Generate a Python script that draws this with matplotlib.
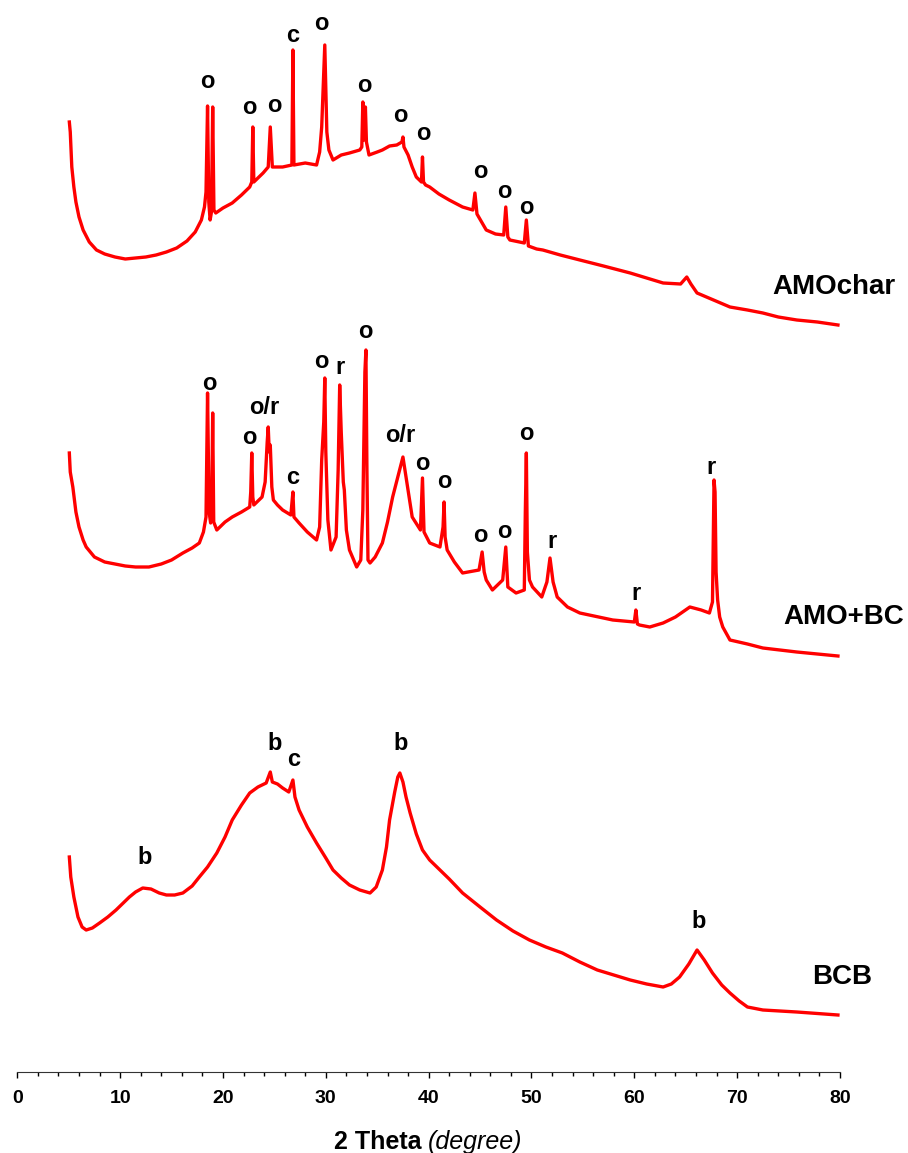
import matplotlib
matplotlib.use("Agg")
import matplotlib.pyplot as plt

plt.rcParams['font.family'] = ['Liberation Sans', 'DejaVu Sans']

# 2 theta / intensity (a.u.)
amochar_x = [5.06, 5.15, 5.3, 5.5, 5.7, 6.0, 6.4, 7.0, 7.7, 8.5, 9.5, 10.5, 11.5, 12.5, 13.5, 14.5,
             15.5, 16.5, 17.3, 17.9, 18.2, 18.35, 18.5, 18.62, 18.75, 18.88, 19.0, 19.12, 19.3, 20.0,
             20.9, 21.8, 22.6, 22.8, 22.9, 23.0, 23.5, 23.9, 24.4, 24.6, 24.8, 25.8, 26.7, 26.8, 26.9,
             28.0, 29.1, 29.4, 29.6, 29.9, 30.1, 30.3, 30.7, 31.5, 32.3, 33.3, 33.5, 33.6, 33.72,
             33.85, 33.95, 34.2, 35.0, 35.5, 36.2, 36.9, 37.4, 37.5, 37.6, 38.0, 38.4, 38.8, 39.3,
             39.4, 39.5, 39.7, 40.1, 41.0, 42.0, 43.3, 44.3, 44.5, 44.7, 45.6, 46.5, 47.3, 47.5,
             47.7, 47.9, 49.3, 49.5, 49.7, 50.5, 51.1, 52.8, 54.7, 57.0, 59.6, 61.2, 62.8, 64.5,
             65.1, 65.5, 66.1, 67.7, 69.3, 71.0, 72.5, 74.0, 75.8, 77.8, 79.8]
amochar_y = [950, 940, 905, 885, 870, 855, 842, 830, 822, 818, 815, 813, 814, 815, 817, 820,
             824, 831, 840, 852, 865, 880, 966, 870, 852, 860, 965, 862, 859, 864,
             869, 877, 885, 890, 945, 890, 895, 899, 905, 945, 905, 905, 907, 1022, 907,
             909, 907, 920, 945, 1027, 940, 922, 912, 917, 919, 922, 925, 970, 932,
             965, 930, 917, 920, 922, 926, 927, 930, 935, 925, 917, 905, 895, 890,
             915, 890, 887, 885, 878, 872, 865, 862, 879, 858, 842, 838, 837, 865,
             835, 832, 829, 852, 826, 823, 822, 817, 812, 806, 799, 794, 789, 788,
             795, 788, 779, 772, 765, 762, 759, 755, 752, 750, 747]

amobc_x = [5.06, 5.15, 5.4, 5.7, 6.0, 6.4, 6.7, 7.5, 8.5, 9.5, 10.5, 11.5, 12.8, 14.0, 15.0, 16.1,
           17.0, 17.7, 18.1, 18.35, 18.5, 18.65, 18.8, 18.9, 19.0, 19.1, 19.4, 20.2, 20.9, 21.8,
           22.6, 22.7, 22.8, 22.9, 23.0, 23.8, 24.1, 24.3, 24.4, 24.5, 24.6, 24.75, 24.9, 25.3,
           25.8, 26.6, 26.75, 26.8, 26.9, 27.4, 28.2, 29.1, 29.4, 29.6, 29.8, 29.9, 30.0, 30.2,
           30.5, 31.0, 31.2, 31.35, 31.5, 31.7, 31.8, 32.0, 32.3, 33.0, 33.4, 33.6, 33.8, 33.9,
           34.0, 34.1, 34.3, 34.8, 35.5, 36.0, 36.5, 37.0, 37.5, 37.8, 38.0, 38.4, 39.2, 39.4,
           39.55, 39.7, 40.1, 41.1, 41.4, 41.5, 41.6, 41.8, 42.5, 43.3, 44.9, 45.2, 45.4, 45.6,
           46.2, 47.2, 47.5, 47.7, 48.5, 49.3, 49.4, 49.5, 49.6, 49.8, 50.1, 51.0, 51.5, 51.8,
           52.1, 52.5, 53.5, 54.7, 56.5, 57.9, 60.0, 60.15, 60.3, 60.5, 61.5, 62.8, 64.0, 65.4,
           66.5, 67.3, 67.6, 67.75, 67.85, 67.95, 68.1, 68.3, 68.6, 69.3, 71.0, 72.5, 75.8, 79.8]
amobc_y = [619, 600, 585, 560, 545, 532, 525, 515, 510, 508, 506, 505, 505, 508, 512, 519,
           524, 529, 540, 555, 679, 560, 549, 560, 659, 550, 542, 550, 555, 560,
           565, 580, 619, 575, 567, 575, 590, 630, 645, 620, 627, 585, 572, 567,
           562, 557, 575, 580, 555, 549, 540, 532, 545, 612, 650, 694, 620, 552,
           522, 535, 602, 687, 640, 590, 582, 542, 522, 505, 512, 562, 700, 722,
           600, 512, 509, 515, 529, 550, 575, 595, 615, 595, 582, 555, 542, 594,
           540, 537, 529, 525, 545, 570, 535, 522, 510, 499, 502, 520, 500, 492,
           482, 492, 525, 485, 479, 482, 560, 619, 520, 492, 485, 475, 490, 514,
           490, 475, 465, 459, 455, 452, 450, 462, 448, 447, 445, 449, 455, 465,
           462, 459, 470, 592, 580, 500, 472, 455, 445, 432, 428, 424, 420, 416]

bcb_x = [5.06, 5.2, 5.5, 5.9, 6.3, 6.7, 7.3, 8.0, 8.8, 9.6, 10.3, 10.9, 11.5, 12.2, 13.0, 13.8,
         14.5, 15.3, 16.1, 17.0, 17.7, 18.5, 19.4, 20.2, 20.9, 21.8, 22.6, 23.4, 24.2, 24.6,
         24.8, 25.3, 25.8, 26.4, 26.8, 27.0, 27.4, 28.2, 29.1, 30.0, 30.7, 31.5, 32.3, 33.3,
         34.3, 34.9, 35.5, 35.9, 36.2, 36.7, 37.0, 37.2, 37.5, 37.8, 38.2, 38.8, 39.4, 40.1,
         41.0, 42.0, 43.3, 45.0, 46.6, 48.2, 49.8, 51.4, 53.0, 54.7, 56.4, 58.0, 59.6, 61.2,
         62.8, 63.6, 64.4, 65.3, 66.1, 66.8, 67.6, 68.5, 69.3, 70.2, 71.0, 72.5, 75.8, 79.8]
bcb_y = [215, 195, 175, 155, 145, 142, 144, 149, 155, 162, 169, 175, 180, 184, 183, 179,
         177, 177, 179, 186, 195, 205, 219, 235, 252, 267, 279, 285, 289, 300,
         290, 288, 284, 280, 292, 275, 262, 245, 229, 214, 202, 194, 187, 182,
         179, 185, 202, 225, 252, 280, 295, 299, 290, 275, 259, 238, 222, 212,
         203, 193, 179, 165, 152, 141, 132, 125, 119, 110, 102, 97, 92, 88,
         85, 88, 95, 108, 122, 112, 99, 87, 79, 71, 65, 62, 60, 57]

# phase labels: (text, 2theta, height)
amochar_marks = [("o", 18.5, 990), ("o", 22.6, 965), ("o", 25.0, 967), ("c", 26.8, 1036),
                 ("o", 29.6, 1049), ("o", 33.7, 986), ("o", 37.2, 956), ("o", 39.5, 938),
                 ("o", 45.0, 901), ("o", 47.4, 880), ("o", 49.5, 864)]
amobc_marks = [("o", 18.7, 688), ("o", 22.6, 635), ("o/r", 24.0, 664), ("c", 26.8, 594),
               ("o", 29.6, 711), ("r", 31.4, 705), ("o", 33.8, 741), ("o/r", 37.2, 636),
               ("o", 39.4, 609), ("o", 41.5, 591), ("o", 45.0, 537), ("o", 47.4, 540),
               ("o", 49.5, 638), ("r", 52.0, 531), ("r", 60.2, 479), ("r", 67.5, 605)]
bcb_marks = [("b", 12.4, 214), ("b", 25.0, 328), ("c", 26.9, 312), ("b", 37.3, 328), ("b", 66.3, 151)]

fig = plt.figure(figsize=(9.08, 11.53), dpi=100)
ax = fig.add_axes([17.3/908, 81/1153, 822.7/908, 1072/1153])

for xs, ys in [(amochar_x, amochar_y), (amobc_x, amobc_y), (bcb_x, bcb_y)]:
    ax.plot(xs, ys, color='red', lw=2.4)

for marks in [amochar_marks, amobc_marks, bcb_marks]:
    for t, x, y in marks:
        ax.text(x, y, t, ha='center', va='center', fontsize=17, fontweight='bold')

ax.text(85.4, 785, "AMOchar", ha='right', va='center', fontsize=20, fontweight='bold', clip_on=False)
ax.text(86.2, 455, "AMO+BC", ha='right', va='center', fontsize=20, fontweight='bold', clip_on=False)
ax.text(83.1, 95, "BCB", ha='right', va='center', fontsize=20, fontweight='bold', clip_on=False)

ax.set_xlim(0, 80)
ax.set_ylim(0, 1072)
ax.set_xticks(range(0, 81, 10))
ax.set_xticks(range(0, 81, 2), minor=True)
ax.tick_params(axis='x', which='major', length=4, width=1, direction='out', pad=9, labelsize=14)
ax.tick_params(axis='x', which='minor', length=3, width=1, direction='out')
for lbl in ax.get_xticklabels():
    lbl.set_fontweight('bold')
ax.set_yticks([])
for s in ['left', 'right', 'top']:
    ax.spines[s].set_visible(False)
ax.spines['bottom'].set_color('#333333')

fig.text(421/908, 4/1153, "2 Theta", ha='right', va='baseline', fontsize=18, fontweight='bold')
fig.text(428/908, 4/1153, "(degree)", ha='left', va='baseline', fontsize=18, style='italic')

fig.savefig("out.png", dpi=100)
